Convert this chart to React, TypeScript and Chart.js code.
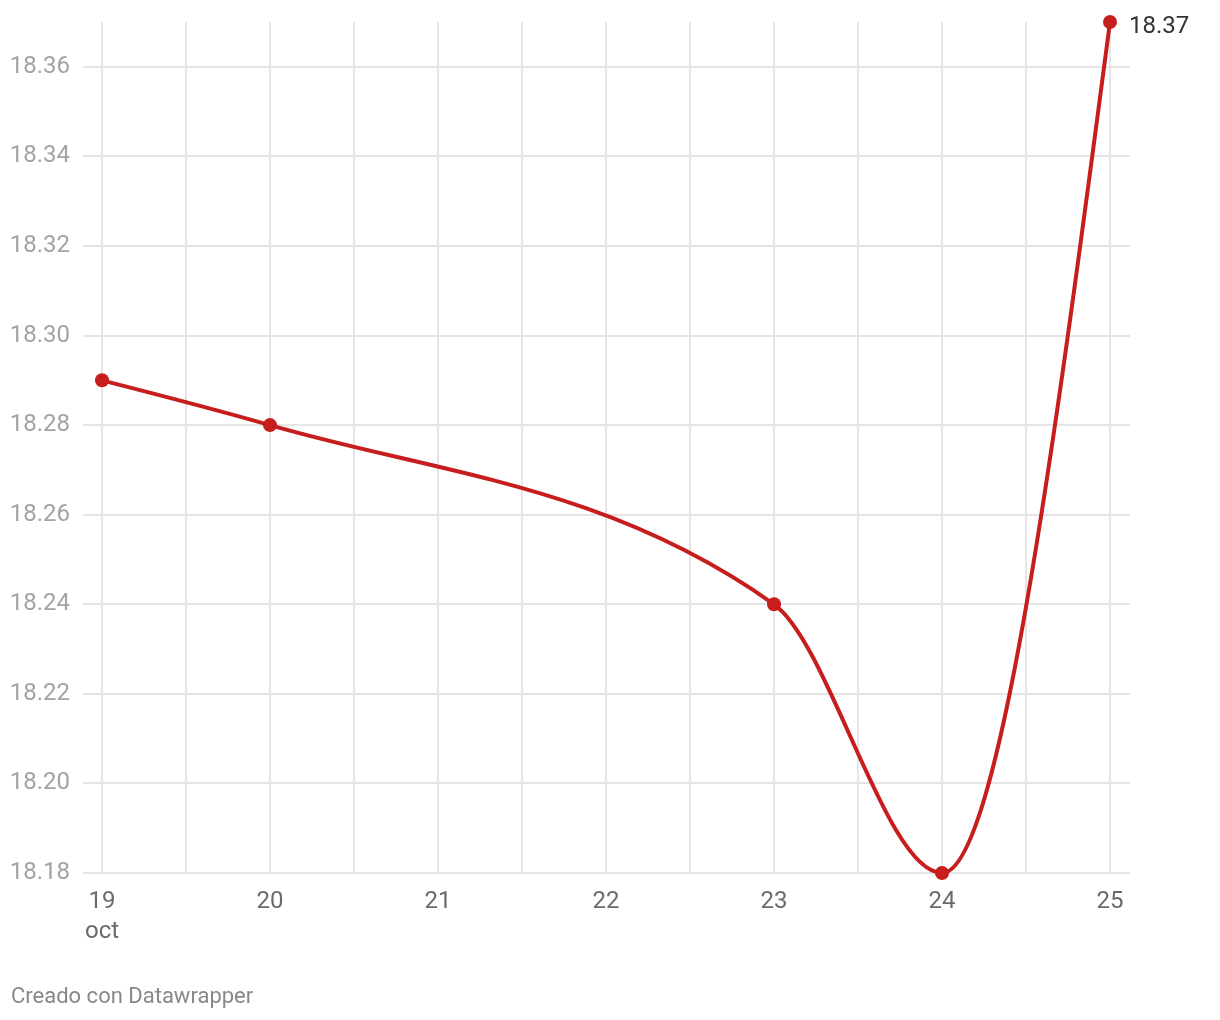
import { useEffect, useRef } from 'react';
import { Chart, registerables } from 'chart.js';

Chart.register(...registerables);

const days = [19, 20, 23, 24, 25];
const values = [18.29, 18.28, 18.24, 18.18, 18.37];
const xGridTicks = [19, 19.5, 20, 20.5, 21, 21.5, 22, 22.5, 23, 23.5, 24, 24.5, 25];
const yTicks = [18.18, 18.2, 18.22, 18.24, 18.26, 18.28, 18.3, 18.32, 18.34, 18.36];
const monthLabel = 'oct';
const lastValueLabel = '18.37';
const credit = 'Creado con Datawrapper';

const RED = '#c71e1d';
const FONT = 'Roboto';

// Monotone-X (Steffen) tangents, applied to Chart.js point control points in pixel space
const monotonePlugin = {
  id: 'monotoneX',
  beforeDatasetDraw(chart: any, args: any) {
    const meta = chart.getDatasetMeta(args.index);
    const line = meta.dataset;
    if (line && typeof line.updateControlPoints === 'function') {
      line.updateControlPoints(chart.chartArea, 'x');
    }
    const pts = meta.data;
    const n = pts.length;
    if (n < 3) return;
    const xs = pts.map((p: any) => p.x);
    const ys = pts.map((p: any) => p.y);
    const sign = (v: number) => (v < 0 ? -1 : 1);
    const t: number[] = new Array(n).fill(0);
    for (let i = 1; i < n - 1; i++) {
      const h0 = xs[i] - xs[i - 1];
      const h1 = xs[i + 1] - xs[i];
      const s0 = (ys[i] - ys[i - 1]) / h0;
      const s1 = (ys[i + 1] - ys[i]) / h1;
      const p = (s0 * h1 + s1 * h0) / (h0 + h1);
      t[i] = (sign(s0) + sign(s1)) * Math.min(Math.abs(s0), Math.abs(s1), 0.5 * Math.abs(p)) || 0;
    }
    t[0] = (3 * (ys[1] - ys[0]) / (xs[1] - xs[0]) - t[1]) / 2;
    t[n - 1] = (3 * (ys[n - 1] - ys[n - 2]) / (xs[n - 1] - xs[n - 2]) - t[n - 2]) / 2;
    for (let i = 0; i < n - 1; i++) {
      const dx = (xs[i + 1] - xs[i]) / 3;
      pts[i].cp2x = xs[i] + dx;
      pts[i].cp2y = ys[i] + dx * t[i];
      pts[i + 1].cp1x = xs[i + 1] - dx;
      pts[i + 1].cp1y = ys[i + 1] - dx * t[i + 1];
    }
  },
};

export default function App() {
  const ref = useRef<HTMLCanvasElement | null>(null);

  useEffect(() => {
    if (!ref.current) return;
    const lastLabelPlugin = {
      id: 'lastLabel',
      afterDatasetsDraw(chart: any) {
        const meta = chart.getDatasetMeta(0);
        const pt = meta.data[meta.data.length - 1];
        if (!pt) return;
        const ctx = chart.ctx;
        ctx.save();
        ctx.font = `24px ${FONT}`;
        ctx.fillStyle = '#333333';
        ctx.textAlign = 'left';
        ctx.textBaseline = 'middle';
        ctx.fillText(lastValueLabel, pt.x + 19, pt.y + 5);
        ctx.restore();
      },
    };
    const chart = new Chart(ref.current, {
      type: 'line',
      data: {
        datasets: [
          {
            data: days.map((d, i) => ({ x: d, y: values[i] })),
            borderColor: RED,
            backgroundColor: RED,
            borderWidth: 4,
            pointRadius: 7,
            pointBorderWidth: 0,
            pointBackgroundColor: RED,
            cubicInterpolationMode: 'monotone',
            clip: false as any,
          },
        ],
      },
      options: {
        animation: false,
        responsive: false,
        maintainAspectRatio: false,
        layout: { padding: { top: 22, right: 90, left: 0, bottom: 0 } },
        plugins: { legend: { display: false }, tooltip: { enabled: false } },
        scales: {
          x: {
            type: 'linear',
            min: 19 - 19 / 168,
            max: 25 + 20 / 168,
            afterBuildTicks: (axis: any) => {
              axis.ticks = xGridTicks.map((v) => ({ value: v }));
            },
            afterFit: (axis: any) => {
              axis.height = 1020 - 873;
              axis.paddingLeft = 0;
              axis.paddingRight = 0;
            },
            border: { display: false },
            grid: { color: '#e5e5e5', lineWidth: 2, drawTicks: false },
            ticks: {
              autoSkip: false,
              maxRotation: 0,
              padding: 14,
              color: '#6b6b6b',
              font: { family: FONT, size: 24, lineHeight: 1.25 },
              callback: (value: any) => {
                const v = Number(value);
                if (!Number.isInteger(v)) return '';
                return v === 19 ? [String(v), monthLabel] : String(v);
              },
            },
          },
          y: {
            type: 'linear',
            min: 18.18,
            max: 18.37,
            afterBuildTicks: (axis: any) => {
              axis.ticks = yTicks.map((v) => ({ value: v }));
            },
            afterFit: (axis: any) => {
              axis.width = 83;
              axis.paddingTop = 0;
              axis.paddingBottom = 0;
            },
            border: { display: false },
            grid: { color: '#e5e5e5', lineWidth: 2, drawTicks: false },
            ticks: {
              padding: 13,
              color: '#a3a3a3',
              font: { family: FONT, size: 24 },
              callback: (value: any) => Number(value).toFixed(2),
            },
          },
        },
      },
      plugins: [monotonePlugin, lastLabelPlugin],
    });
    return () => chart.destroy();
  }, []);

  return (
    <div style={{ position: 'fixed', left: 0, top: 0, width: 1220, height: 1020, background: '#fff' }}>
      <canvas ref={ref} width={1220} height={1020} style={{ display: 'block', width: 1220, height: 1020 }} />
      <div
        style={{
          position: 'absolute',
          left: 11,
          top: 983,
          fontFamily: FONT,
          fontSize: 22,
          color: '#888888',
          lineHeight: '26px',
        }}
      >
        {credit}
      </div>
    </div>
  );
}
